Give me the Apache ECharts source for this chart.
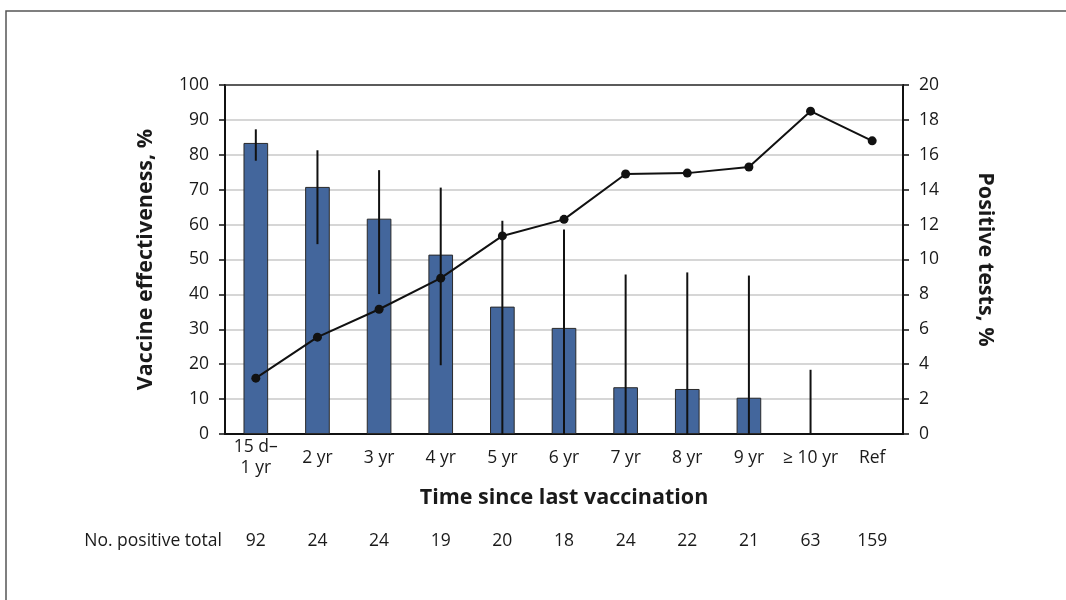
<!DOCTYPE html>
<html><head><meta charset="utf-8">
<script src="https://cdn.jsdelivr.net/npm/echarts@6/dist/echarts.min.js"></script>
<style>html,body{margin:0;padding:0;background:#fff}#c{width:1066px;height:600px}</style>
</head><body><div id="c"></div>
<script>
const categories = ['15 d–\n1 yr','2 yr','3 yr','4 yr','5 yr','6 yr','7 yr','8 yr','9 yr','≥ 10 yr','Ref'];
const effectiveness = [83.4, 70.8, 61.7, 51.4, 36.5, 30.4, 13.4, 12.9, 10.4, -0.7, null];
const ciLow  = [78.3, 54.4, 40.1, 19.7, 0, 0, 0, 0, 0, 0, null];
const ciHigh = [87.3, 81.3, 75.6, 70.6, 61.1, 58.6, 45.7, 46.3, 45.4, 18.4, null];
const positiveTests = [3.2, 5.55, 7.15, 8.93, 11.35, 12.3, 14.9, 14.95, 15.3, 18.5, 16.8];
const positiveTotal = ['92','24','24','19','20','18','24','22','21','63','159'];
const leftTicks = [0, 100, 10];
const rightTicks = [0, 20, 2];

const FONT = '"Open Sans", sans-serif';
const TXT = '#1a1a1a';
const FS = 17.5;
const chart = echarts.init(document.getElementById('c'));
const errData = categories.map((c, i) => [i, ciLow[i], ciHigh[i]]).filter(d => d[1] != null);

chart.setOption({
  animation: false,
  textStyle: { fontFamily: FONT, color: TXT },
  graphic: [{
    type: 'rect', silent: true, z: -10,
    shape: { x: 6, y: 11, width: 1200, height: 700 },
    style: { fill: 'none', stroke: '#555', lineWidth: 1.5 }
  }, {
    type: 'text', silent: true, x: 222, y: 541,
    style: { text: 'No. positive total', fontSize: FS, fontFamily: FONT, fill: TXT, align: 'right', verticalAlign: 'middle' }
  }],
  grid: { left: 225, right: 163, top: 85, bottom: 166 },
  xAxis: [{
    type: 'category', data: categories, gridIndex: 0,
    axisLine: { lineStyle: { color: '#111', width: 2 } },
    axisTick: { show: false },
    axisLabel: { fontSize: FS, color: TXT, fontFamily: FONT, interval: 0, margin: 24, verticalAlign: 'middle', lineHeight: 21 },
    name: 'Time since last vaccination', nameLocation: 'middle', nameGap: 53,
    nameTextStyle: { fontSize: 21.5, fontWeight: 'bold', color: TXT, fontFamily: FONT }
  }, {
    type: 'category', data: positiveTotal, gridIndex: 0, position: 'bottom', offset: 107,
    axisLine: { show: false }, axisTick: { show: false },
    axisLabel: { fontSize: FS, color: TXT, fontFamily: FONT, interval: 0, margin: 0, verticalAlign: 'middle' }
  }, {
    type: 'category', data: categories, gridIndex: 0, position: 'top',
    axisLine: { show: true, lineStyle: { color: '#333', width: 1.5 } },
    axisTick: { show: false }, axisLabel: { show: false }
  }],
  yAxis: [{
    type: 'value', min: leftTicks[0], max: leftTicks[1], interval: leftTicks[2],
    axisLine: { show: true, lineStyle: { color: '#111', width: 2 } },
    axisTick: { show: true, length: 6, lineStyle: { color: '#111', width: 1.5 } },
    axisLabel: { fontSize: FS, color: TXT, fontFamily: FONT, margin: 16 },
    splitLine: { show: true, lineStyle: { color: '#c8c8c8', width: 1.5 } },
    name: 'Vaccine effectiveness, %', nameLocation: 'middle', nameGap: 68, nameRotate: 90,
    nameTextStyle: { fontSize: 21.5, fontWeight: 'bold', color: TXT, fontFamily: FONT }
  }, {
    type: 'value', min: rightTicks[0], max: rightTicks[1], interval: rightTicks[2], position: 'right',
    axisLine: { show: true, lineStyle: { color: '#111', width: 2 } },
    axisTick: { show: true, length: 6, lineStyle: { color: '#111', width: 1.5 } },
    axisLabel: { fontSize: FS, color: TXT, fontFamily: FONT, margin: 16 },
    splitLine: { show: false },
    name: 'Positive tests, %', nameLocation: 'middle', nameGap: 71, nameRotate: -90,
    nameTextStyle: { fontSize: 21.5, fontWeight: 'bold', color: TXT, fontFamily: FONT }
  }],
  series: [{
    type: 'bar', data: effectiveness, xAxisIndex: 0, yAxisIndex: 0, barWidth: '40%',
    itemStyle: { color: '#43669c', borderColor: '#2a2a2a', borderWidth: 1 }, z: 2
  }, {
    type: 'custom', xAxisIndex: 0, yAxisIndex: 0, data: errData, z: 3,
    renderItem: function (params, api) {
      const lo = api.coord([api.value(0), api.value(1)]);
      const hi = api.coord([api.value(0), api.value(2)]);
      return { type: 'line', shape: { x1: lo[0], y1: lo[1], x2: hi[0], y2: hi[1] },
               style: { stroke: '#111', lineWidth: 2 } };
    }
  }, {
    type: 'line', data: positiveTests, xAxisIndex: 0, yAxisIndex: 1, z: 5,
    symbol: 'circle', symbolSize: 9,
    lineStyle: { color: '#111', width: 2 }, itemStyle: { color: '#111' }
  }]
});
</script></body></html>
